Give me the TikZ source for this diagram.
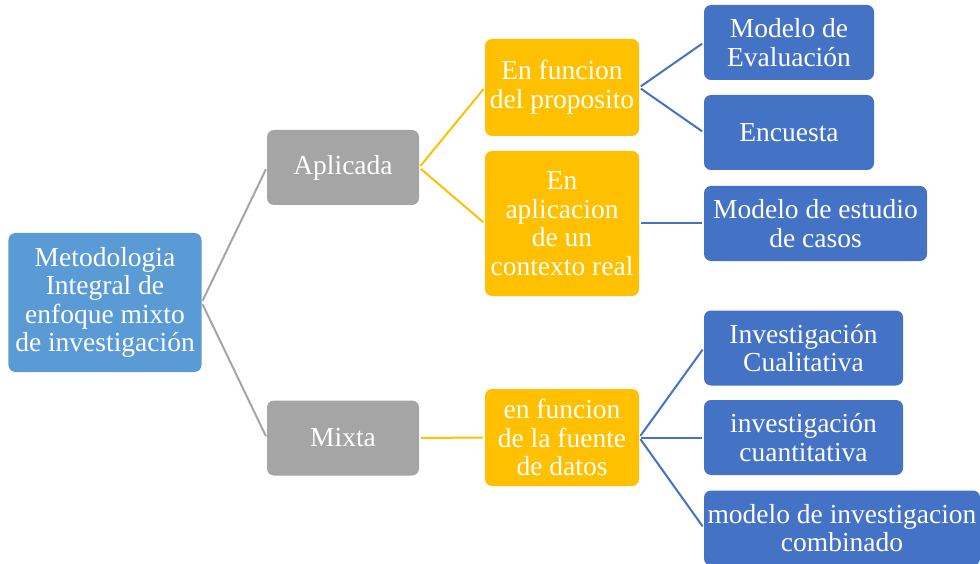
\documentclass[tikz,border=0pt]{standalone}
\usepackage{fontspec}
\setmainfont{Liberation Serif}
\usepackage{tikz}

\definecolor{rootblue}{HTML}{5B9BD5}
\definecolor{catgray}{HTML}{A5A5A5}
\definecolor{subyellow}{HTML}{FFC000}
\definecolor{leafblue}{HTML}{4472C4}

\begin{document}
\begin{tikzpicture}[x=1bp, y=-1bp]
			\tikzstyle{Box}		= [rounded corners=7bp, inner sep=0pt, text=white, align=center, font=\rmfamily\fontsize{27.5bp}{28.6bp}\selectfont]
			\tikzstyle{Root}	= [Box, fill=rootblue, minimum width=193bp, minimum height=139bp]
			\tikzstyle{Cat}		= [Box, fill=catgray, minimum width=152bp, minimum height=75bp]
			\tikzstyle{Sub}		= [Box, fill=subyellow, minimum width=154bp, minimum height=97bp]
			\tikzstyle{Leaf}	= [Box, fill=leafblue, minimum height=75bp]
			\tikzstyle{GL}		= [line width=2bp, catgray, shorten <=2bp, shorten >=2bp]
			\tikzstyle{YL}		= [line width=2bp, subyellow, shorten <=2bp, shorten >=2bp]
			\tikzstyle{BL}		= [line width=2bp, leafblue, shorten <=2bp, shorten >=2bp]

			\useasboundingbox (0,0) rectangle (980,564);

			\node (root) at (105, 302.5) [Root] {Metodologia\\Integral de\\enfoque mixto\\de investigación};
			\node (apl) at (343, 167.5) [Cat] {Aplicada};
			\node (mix) at (343, 438) [Cat] {Mixta};
			\node (f1) at (562, 87.5) [Sub] {En funcion\\del proposito};
			\node (f2) at (562, 223.5) [Sub][minimum height=145bp] {En\\aplicacion\\de un\\contexto real};
			\node (f3) at (562, 437.5) [Sub] {en funcion\\de la fuente\\de datos};
			\node (h1) at (789, 42.5) [Leaf][minimum width=170bp] {Modelo de\\Evaluación};
			\node (h2) at (789, 132.5) [Leaf][minimum width=170bp] {Encuesta};
			\node (h3) at (815.5, 223.5) [Leaf][minimum width=223bp] {Modelo de estudio\\de casos};
			\node (h4) at (803.5, 348) [Leaf][minimum width=199bp] {Investigación\\Cualitativa};
			\node (h5) at (803.5, 437.5) [Leaf][minimum width=199bp] {investigación\\cuantitativa};
			\node (h6) at (842, 528) [Leaf][minimum width=276bp] {modelo de investigacion\\combinado};

			\draw [-] (root.east) to (apl.west) [GL];
			\draw [-] (root.east) to (mix.west) [GL];
			\draw [-] (apl.east) to (f1.west) [YL];
			\draw [-] (apl.east) to (f2.west) [YL];
			\draw [-] (mix.east) to (f3.west) [YL];
			\draw [-] (f1.east) to (h1.west) [BL];
			\draw [-] (f1.east) to (h2.west) [BL];
			\draw [-] (f2.east) to (h3.west) [BL];
			\draw [-] (f3.east) to (h4.west) [BL];
			\draw [-] (f3.east) to (h5.west) [BL];
			\draw [-] (f3.east) to (h6.west) [BL];
\end{tikzpicture}
\end{document}
